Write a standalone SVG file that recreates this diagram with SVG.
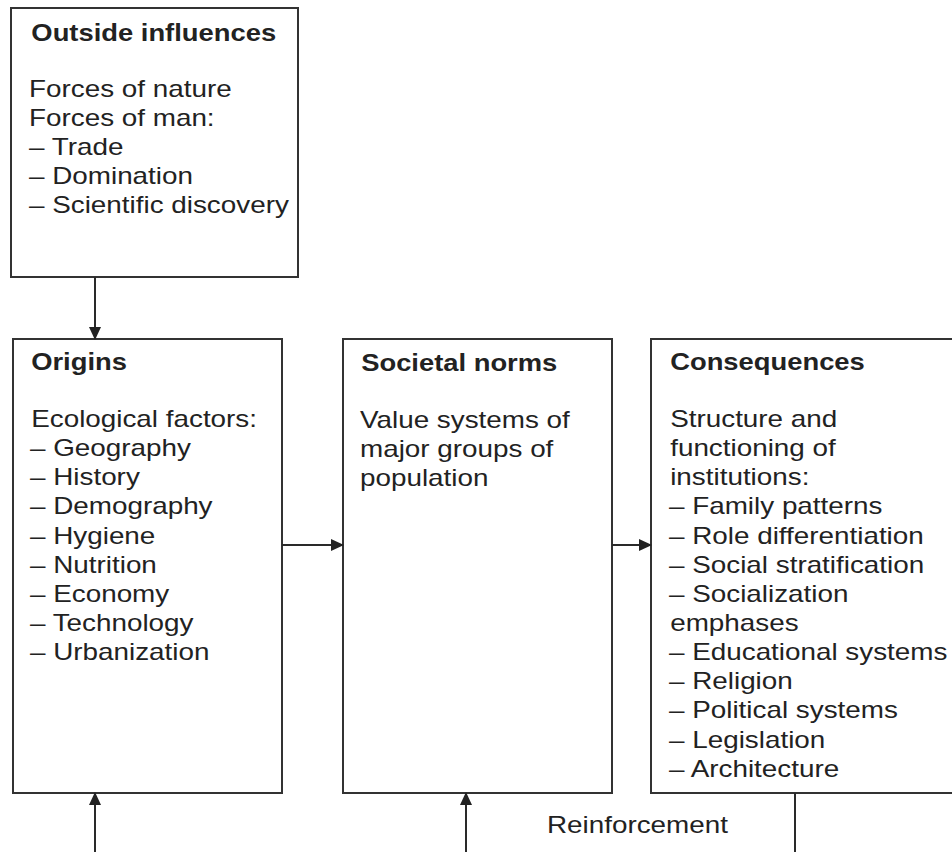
<svg xmlns="http://www.w3.org/2000/svg" width="952" height="852" viewBox="0 0 952 852">
<style>
.box{fill:#fff;stroke:#333;stroke-width:2}
.conn{stroke:#2a2a2a;stroke-width:2;fill:none}
.t{font-family:"Liberation Sans",Arial,Helvetica,sans-serif;font-size:23.4px;fill:#222}
.b{font-weight:bold;font-size:23px}
</style>
<defs>
<marker id="ah" markerUnits="userSpaceOnUse" markerWidth="13" markerHeight="12" refX="12" refY="6" orient="auto">
<path d="M0,0 L13,6 L0,12 z" fill="#222"/>
</marker>
</defs>
<rect width="952" height="852" fill="#fff"/>

<g id="outside">
<rect class="box" x="11" y="8" width="287" height="269"/>
<g transform="translate(29 0) scale(1.19 1)">
<text class="t b" x="2" y="41">Outside influences</text>
<text class="t" x="0" y="97">Forces of nature</text>
<text class="t" x="0" y="126">Forces of man:</text>
<text class="t" x="0" y="155">– Trade</text>
<text class="t" x="0" y="184">– Domination</text>
<text class="t" x="0" y="213">– Scientific discovery</text>
</g>
</g>

<g id="origins">
<rect class="box" x="13" y="339" width="269" height="454"/>
<g transform="translate(30 0) scale(1.19 1)">
<text class="t b" x="1" y="370">Origins</text>
<text class="t" x="1" y="427">Ecological factors:</text>
<text class="t" x="0" y="456.2">– Geography</text>
<text class="t" x="0" y="485.3">– History</text>
<text class="t" x="0" y="514.5">– Demography</text>
<text class="t" x="0" y="543.6">– Hygiene</text>
<text class="t" x="0" y="572.8">– Nutrition</text>
<text class="t" x="0" y="601.9">– Economy</text>
<text class="t" x="0" y="631.1">– Technology</text>
<text class="t" x="0" y="660.2">– Urbanization</text>
</g>
</g>

<g id="societal">
<rect class="box" x="343" y="339" width="269" height="454"/>
<g transform="translate(360 0) scale(1.19 1)">
<text class="t b" x="1" y="371">Societal norms</text>
<text class="t" x="0" y="428">Value systems of</text>
<text class="t" x="0" y="457">major groups of</text>
<text class="t" x="0" y="486">population</text>
</g>
</g>

<g id="consequences">
<rect class="box" x="651" y="339" width="320" height="454"/>
<g transform="translate(669 0) scale(1.19 1)">
<text class="t b" x="1" y="370">Consequences</text>
<text class="t" x="1" y="427">Structure and</text>
<text class="t" x="1" y="456.2">functioning of</text>
<text class="t" x="1" y="485.3">institutions:</text>
<text class="t" x="0" y="514.5">– Family patterns</text>
<text class="t" x="0" y="543.6">– Role differentiation</text>
<text class="t" x="0" y="572.8">– Social stratification</text>
<text class="t" x="0" y="601.9">– Socialization</text>
<text class="t" x="1" y="631.1">emphases</text>
<text class="t" x="0" y="660.2">– Educational systems</text>
<text class="t" x="0" y="689.4">– Religion</text>
<text class="t" x="0" y="718.5">– Political systems</text>
<text class="t" x="0" y="747.7">– Legislation</text>
<text class="t" x="0" y="776.8">– Architecture</text>
</g>
</g>

<g id="connectors">
<line class="conn" x1="95" y1="277" x2="95" y2="339" marker-end="url(#ah)"/>
<line class="conn" x1="282" y1="545" x2="343" y2="545" marker-end="url(#ah)"/>
<line class="conn" x1="612" y1="545" x2="651" y2="545" marker-end="url(#ah)"/>
<line class="conn" x1="95" y1="852" x2="95" y2="793" marker-end="url(#ah)"/>
<line class="conn" x1="466" y1="852" x2="466" y2="793" marker-end="url(#ah)"/>
<line class="conn" x1="795" y1="793" x2="795" y2="852"/>
<g transform="translate(547 0) scale(1.19 1)">
<text class="t" x="0" y="833">Reinforcement</text>
</g>
</g>
</svg>
